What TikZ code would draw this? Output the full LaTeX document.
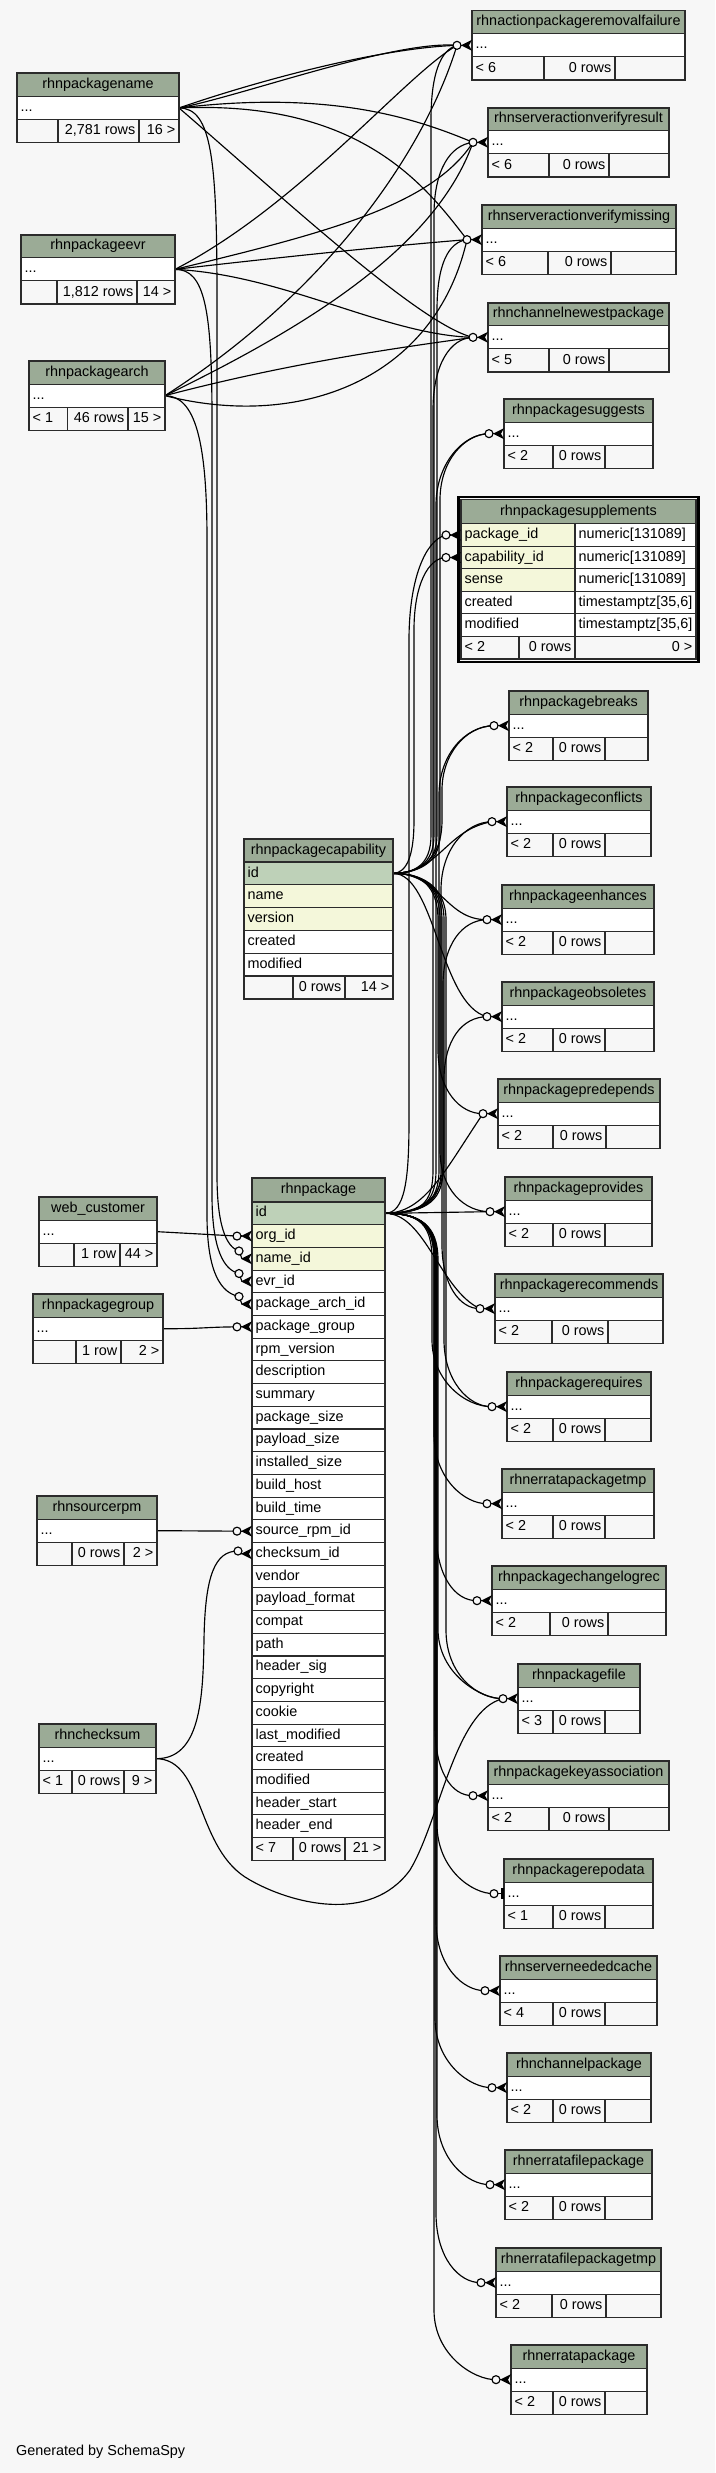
\documentclass[tikz,border=0pt]{standalone}
\usepackage{fontspec}
\setmainfont{Liberation Sans}
\usetikzlibrary{calc}
\definecolor{bgc}{HTML}{F7F7F7}
\definecolor{hdrc}{HTML}{9BAB96}
\definecolor{pkc}{HTML}{BED1B8}
\definecolor{idxc}{HTML}{F4F7DA}
\definecolor{bordc}{HTML}{2B2B2B}
\newcommand\fs{\fontsize{14.4pt}{17pt}\selectfont}
\newcommand\smalltbl[9]{%
  \def\stId{#1}\def\stTitle{#2}\def\stXl{#3}\def\stXr{#4}\def\stYt{#5}%
  \def\stDa{#6}\def\stDb{#7}\def\stFa{#8}\def\stFb{#9}\smalltblend}
\newcommand\smalltblend[1]{%
  \pgfmathsetmacro\stYa{\stYt+23.1}%
  \pgfmathsetmacro\stYb{\stYt+46.2}%
  \pgfmathsetmacro\stYc{\stYt+69.3}%
  \pgfmathsetmacro\stXm{(\stXl+\stXr)/2}%
  \filldraw[cell,fill=hdrc] (\stXl,\stYt) rectangle (\stXr,\stYa);
  \filldraw[cell,fill=white] (\stXl,\stYa) rectangle (\stXr,\stYb);
  \filldraw[cell,fill=bgc] (\stXl,\stYb) rectangle (\stDa,\stYc);
  \filldraw[cell,fill=bgc] (\stDa,\stYb) rectangle (\stDb,\stYc);
  \filldraw[cell,fill=bgc] (\stDb,\stYb) rectangle (\stXr,\stYc);
  \draw[outer] (\stXl,\stYt) rectangle (\stXr,\stYc);
  \node[txt] (\stId) at (\stXm,\stYt+11.55) {\stTitle};
  \node[txt,anchor=west] (\stId-r) at (\stXl,\stYt+34.65) {...};
  \node[txt,anchor=west] (\stId-fa) at (\stXl,\stYt+57.75) {\stFa};
  \node[txt,anchor=east] (\stId-fb) at (\stDb,\stYt+57.75) {\stFb};
  \node[txt,anchor=east] (\stId-fc) at (\stXr,\stYt+57.75) {#1};
}
\newcommand\crowm[2]{%
  \draw[rel] (#2) -- ($(#1)+(-10,0)$);
  \fill[black] ($(#1)+(-11,0)$) -- ($(#1)+(0,-5.5)$) -- ($(#1)+(-3,0)$) -- ($(#1)+(0,5.5)$) -- cycle;
  \draw[rel,fill=bgc] (#2) circle[radius=4pt];}
\newcommand\teem[2]{%
  \draw[rel] (#2) -- (#1);
  \fill[black] ($(#1)+(-3.5,-5.5)$) rectangle ($(#1)+(-0.5,5.5)$);
  \draw[rel,fill=bgc] (#2) circle[radius=4pt];}
\begin{document}
\begin{tikzpicture}[x=1pt,y=-1pt,
  cell/.style={draw=bordc,line width=1.1pt},
  outer/.style={draw=bordc,line width=1.6pt},
  txt/.style={font=\fs,inner xsep=3.5pt,inner ysep=0pt,text height=10.2pt,text depth=3pt},
  rel/.style={draw=black,line width=1.15pt}]
\path[use as bounding box,fill=bgc] (0,0) rectangle (715,2473);

% ---------- coordinates ----------
\coordinate (pname-out) at (179,107.95);
\coordinate (pevr-out) at (175,269.35);
\coordinate (parch-out) at (165,395.65);
\coordinate (wc-out) at (157,1231.65);
\coordinate (pgrp-out) at (163,1328.65);
\coordinate (srpm-out) at (157,1530.65);
\coordinate (csum-out) at (156,1758.65);
\coordinate (pcap-out) at (393,873.4);
\coordinate (pkg-out) at (385,1213.35);

\coordinate (raf-in) at (472,45.35);  \coordinate (raf-c) at (457,45.35);
\coordinate (svr-in) at (488,142.35); \coordinate (svr-c) at (473,142.35);
\coordinate (svm-in) at (482,239.65); \coordinate (svm-c) at (467,239.65);
\coordinate (cnp-in) at (488,337.35); \coordinate (cnp-c) at (473,337.35);
\coordinate (sugg-in) at (504,433.65); \coordinate (sugg-c) at (489,433.65);
\coordinate (supp-pkg-in) at (461,535); \coordinate (supp-pkg-c) at (446,535);
\coordinate (supp-cap-in) at (461,557.5); \coordinate (supp-cap-c) at (446,557.5);
\coordinate (brk-in) at (509,725.65); \coordinate (brk-c) at (494,725.65);
\coordinate (conf-in) at (507,821.65); \coordinate (conf-c) at (492,821.65);
\coordinate (enh-in) at (502,919.65); \coordinate (enh-c) at (487,919.65);
\coordinate (obs-in) at (502,1016.65); \coordinate (obs-c) at (487,1016.65);
\coordinate (pred-in) at (498,1113.65); \coordinate (pred-c) at (483,1113.65);
\coordinate (prov-in) at (505,1211.65); \coordinate (prov-c) at (490,1211.65);
\coordinate (rec-in) at (495,1308.65); \coordinate (rec-c) at (480,1308.65);
\coordinate (req-in) at (507,1406.65); \coordinate (req-c) at (492,1406.65);
\coordinate (ept-in) at (502,1503.65); \coordinate (ept-c) at (487,1503.65);
\coordinate (clog-in) at (492,1600.65); \coordinate (clog-c) at (477,1600.65);
\coordinate (pfile-in) at (518,1698.65); \coordinate (pfile-c) at (503,1698.65);
\coordinate (pka-in) at (488,1795.65); \coordinate (pka-c) at (473,1795.65);
\coordinate (repo-in) at (504,1893.65); \coordinate (repo-c) at (494,1893.65);
\coordinate (snc-in) at (500,1990.65); \coordinate (snc-c) at (485,1990.65);
\coordinate (chp-in) at (507,2087.65); \coordinate (chp-c) at (492,2087.65);
\coordinate (efp-in) at (505,2184.65); \coordinate (efp-c) at (490,2184.65);
\coordinate (efpt-in) at (496,2282.65); \coordinate (efpt-c) at (481,2282.65);
\coordinate (ep-in) at (511,2379.65); \coordinate (ep-c) at (496,2379.65);

\coordinate (pkg-org-in) at (252,1236.05); \coordinate (pkg-org-c) at (237,1236.05);
\coordinate (pkg-name-in) at (252,1258.75); \coordinate (pkg-name-c) at (239,1251);
\coordinate (pkg-evr-in) at (252,1281.45); \coordinate (pkg-evr-c) at (239,1273.5);
\coordinate (pkg-arch-in) at (252,1304.15); \coordinate (pkg-arch-c) at (239,1296.5);
\coordinate (pkg-grp-in) at (252,1326.85); \coordinate (pkg-grp-c) at (237,1326.85);
\coordinate (pkg-src-in) at (252,1531.15); \coordinate (pkg-src-c) at (237,1531.15);
\coordinate (pkg-chk-in) at (252,1553.85); \coordinate (pkg-chk-c) at (238,1551);

% ---------- connectors ----------
% rhnpackagename
\draw[rel] (pname-out) .. controls (260,80) and (380,48) .. (raf-c);
\draw[rel] (pname-out) .. controls (245,95) and (395,40) .. (raf-c);
\draw[rel] (pname-out) .. controls (330,90) and (415,118) .. (svr-c);
\draw[rel] (pname-out) .. controls (360,100) and (425,185) .. (svm-c);
\draw[rel] (pname-out) .. controls (280,195) and (420,325) .. (cnp-c);
\draw[rel] (pname-out) .. controls (212,108) and (217,160) .. (217,300) -- (217,1175) .. controls (217,1225) and (226,1247) .. (pkg-name-c);
% rhnpackageevr
\draw[rel] (pevr-out) .. controls (300,205) and (405,75) .. (raf-c);
\draw[rel] (pevr-out) .. controls (330,232) and (432,205) .. (svr-c);
\draw[rel] (pevr-out) .. controls (300,255) and (400,245) .. (svm-c);
\draw[rel] (pevr-out) .. controls (285,275) and (385,335) .. (cnp-c);
\draw[rel] (pevr-out) .. controls (205,269) and (212,310) .. (212,420) -- (212,1195) .. controls (212,1250) and (224,1270) .. (pkg-evr-c);
% rhnpackagearch
\draw[rel] (parch-out) .. controls (330,290) and (425,150) .. (raf-c);
\draw[rel] (parch-out) .. controls (300,330) and (435,250) .. (svr-c);
\draw[rel] (parch-out) .. controls (300,430) and (435,380) .. (svm-c);
\draw[rel] (parch-out) .. controls (300,360) and (420,345) .. (cnp-c);
\draw[rel] (parch-out) .. controls (195,396) and (207,440) .. (207,540) -- (207,1215) .. controls (207,1275) and (222,1293) .. (pkg-arch-c);
% rhnpackagecapability
\draw[rel] (pcap-out) .. controls (415,873) and (431,865) .. (431,835) -- (431,120) .. controls (431,75) and (440,50) .. (raf-c);
\draw[rel] (pcap-out) .. controls (415,873) and (434,865) .. (434,835) -- (434,215) .. controls (434,170) and (450,145) .. (svr-c);
\draw[rel] (pcap-out) .. controls (415,873) and (437,865) .. (437,835) -- (437,310) .. controls (437,265) and (448,242) .. (svm-c);
\draw[rel] (pcap-out) .. controls (415,873) and (440,865) .. (440,835) -- (440,500) .. controls (440,460) and (465,434) .. (sugg-c);
\draw[rel] (pcap-out) .. controls (405,873) and (414,860) .. (414,820) -- (414,630) .. controls (414,585) and (428,558) .. (supp-cap-c);
\draw[rel] (pcap-out) .. controls (420,873) and (442,860) .. (442,820) -- (442,790) .. controls (442,755) and (465,726) .. (brk-c);
\draw[rel] (pcap-out) .. controls (440,873) and (445,830) .. (conf-c);
\draw[rel] (pcap-out) .. controls (440,873) and (445,920) .. (enh-c);
\draw[rel] (pcap-out) .. controls (435,873) and (440,1005) .. (obs-c);
\draw[rel] (pcap-out) .. controls (420,873) and (438,885) .. (438,920) -- (438,1050) .. controls (438,1090) and (460,1114) .. (pred-c);
\draw[rel] (pcap-out) .. controls (420,873) and (440,885) .. (440,920) -- (440,1150) .. controls (440,1190) and (465,1212) .. (prov-c);
\draw[rel] (pcap-out) .. controls (420,873) and (442,885) .. (442,920) -- (442,1245) .. controls (442,1285) and (460,1309) .. (rec-c);
\draw[rel] (pcap-out) .. controls (420,873) and (444,885) .. (444,920) -- (444,1340) .. controls (444,1380) and (468,1407) .. (req-c);
\draw[rel] (pcap-out) .. controls (420,873) and (446,885) .. (446,920) -- (446,1630) .. controls (446,1675) and (478,1699) .. (pfile-c);
% rhnpackage
\draw[rel] (pkg-out) .. controls (420,1213) and (433,1205) .. (433,1170) -- (433,410) .. controls (433,365) and (450,338) .. (cnp-c);
\draw[rel] (pkg-out) .. controls (420,1213) and (436,1205) .. (436,1170) -- (436,505) .. controls (436,465) and (462,434) .. (sugg-c);
\draw[rel] (pkg-out) .. controls (405,1213) and (409,1180) .. (409,1120) -- (409,640) .. controls (409,580) and (425,540) .. (supp-pkg-c);
\draw[rel] (pkg-out) .. controls (420,1213) and (439,1205) .. (439,1170) -- (439,795) .. controls (439,755) and (465,726) .. (brk-c);
\draw[rel] (pkg-out) .. controls (420,1213) and (441,1205) .. (441,1170) -- (441,890) .. controls (441,850) and (465,822) .. (conf-c);
\draw[rel] (pkg-out) .. controls (420,1213) and (443,1205) .. (443,1170) -- (443,985) .. controls (443,945) and (462,920) .. (enh-c);
\draw[rel] (pkg-out) .. controls (420,1213) and (444,1200) .. (444,1160) -- (444,1080) .. controls (444,1040) and (462,1017) .. (obs-c);
\draw[rel] (pkg-out) .. controls (425,1213) and (445,1170) .. (pred-c);
\draw[rel] (pkg-out) -- (prov-c);
\draw[rel] (pkg-out) .. controls (425,1213) and (440,1290) .. (rec-c);
\draw[rel] (pkg-out) .. controls (420,1213) and (432,1225) .. (432,1260) -- (432,1340) .. controls (432,1380) and (465,1407) .. (req-c);
\draw[rel] (pkg-out) .. controls (420,1213) and (434,1225) .. (434,1260) -- (434,1434) .. controls (434,1479) and (465,1504) .. (ept-c);
\draw[rel] (pkg-out) .. controls (420,1213) and (436,1225) .. (436,1260) -- (436,1531) .. controls (436,1576) and (455,1601) .. (clog-c);
\draw[rel] (pkg-out) .. controls (420,1213) and (438,1225) .. (438,1260) -- (438,1629) .. controls (438,1674) and (481,1699) .. (pfile-c);
\draw[rel] (pkg-out) .. controls (420,1213) and (435,1225) .. (435,1260) -- (435,1726) .. controls (435,1771) and (451,1796) .. (pka-c);
\draw[rel] (pkg-out) .. controls (420,1213) and (437,1225) .. (437,1260) -- (437,1824) .. controls (437,1869) and (472,1894) .. (repo-c);
\draw[rel] (pkg-out) .. controls (420,1213) and (436,1225) .. (436,1260) -- (436,1921) .. controls (436,1966) and (463,1991) .. (snc-c);
\draw[rel] (pkg-out) .. controls (420,1213) and (435,1225) .. (435,1260) -- (435,2018) .. controls (435,2063) and (470,2088) .. (chp-c);
\draw[rel] (pkg-out) .. controls (420,1213) and (437,1225) .. (437,1260) -- (437,2115) .. controls (437,2160) and (468,2185) .. (efp-c);
\draw[rel] (pkg-out) .. controls (420,1213) and (436,1225) .. (436,1260) -- (436,2213) .. controls (436,2258) and (459,2283) .. (efpt-c);
\draw[rel] (pkg-out) .. controls (420,1213) and (434,1225) .. (434,1260) -- (434,2310) .. controls (434,2355) and (474,2380) .. (ep-c);
% others
\draw[rel] (wc-out) -- (pkg-org-c);
\draw[rel] (pgrp-out) .. controls (200,1329) and (205,1327) .. (pkg-grp-c);
\draw[rel] (srpm-out) -- (pkg-src-c);
\draw[rel] (csum-out) .. controls (200,1759) and (203,1700) .. (204,1640) .. controls (205,1575) and (215,1551) .. (pkg-chk-c);
\draw[rel] (csum-out) .. controls (205,1759) and (195,1850) .. (250,1880) .. controls (290,1903) and (370,1925) .. (410,1870) .. controls (440,1820) and (455,1710) .. (pfile-c);

% ---------- small tables ----------
\smalltbl{raf}{rhnactionpackageremovalfailure}{472}{685}{10.7}{544}{615}{< 6}{0 rows}{}
\smalltbl{svr}{rhnserveractionverifyresult}{488}{669}{107.7}{549}{609}{< 6}{0 rows}{}
\smalltbl{svm}{rhnserveractionverifymissing}{482}{676}{205}{548}{611}{< 6}{0 rows}{}
\smalltbl{cnp}{rhnchannelnewestpackage}{488}{669}{302.7}{549}{609}{< 5}{0 rows}{}
\smalltbl{pname}{rhnpackagename}{17}{179}{73.3}{58}{139}{}{2,781 rows}{16 >}
\smalltbl{pevr}{rhnpackageevr}{21}{175}{234.7}{57}{137}{}{1,812 rows}{14 >}
\smalltbl{parch}{rhnpackagearch}{29}{165}{361}{67.5}{128}{< 1}{46 rows}{15 >}
\smalltbl{sugg}{rhnpackagesuggests}{504}{653}{399}{553}{605}{< 2}{0 rows}{}
\smalltbl{brk}{rhnpackagebreaks}{509}{648}{691}{553}{605}{< 2}{0 rows}{}
\smalltbl{conf}{rhnpackageconflicts}{507}{651}{787}{553}{605}{< 2}{0 rows}{}
\smalltbl{enh}{rhnpackageenhances}{502}{654}{885}{553}{605}{< 2}{0 rows}{}
\smalltbl{obs}{rhnpackageobsoletes}{502}{654}{982}{553}{605}{< 2}{0 rows}{}
\smalltbl{pred}{rhnpackagepredepends}{498}{660}{1079}{553}{606}{< 2}{0 rows}{}
\smalltbl{prov}{rhnpackageprovides}{505}{652}{1177}{553}{605}{< 2}{0 rows}{}
\smalltbl{wc}{web\_customer}{39}{157}{1197}{74}{120}{}{1 row}{44 >}
\smalltbl{pgrp}{rhnpackagegroup}{33}{163}{1294}{76}{121}{}{1 row}{2 >}
\smalltbl{rec}{rhnpackagerecommends}{495}{663}{1274}{552}{608}{< 2}{0 rows}{}
\smalltbl{req}{rhnpackagerequires}{507}{651}{1372}{553}{605}{< 2}{0 rows}{}
\smalltbl{ept}{rhnerratapackagetmp}{502}{654}{1469}{553}{605}{< 2}{0 rows}{}
\smalltbl{srpm}{rhnsourcerpm}{37}{157}{1496}{72}{124}{}{0 rows}{2 >}
\smalltbl{clog}{rhnpackagechangelogrec}{492}{666}{1566}{550}{608}{< 2}{0 rows}{}
\smalltbl{csum}{rhnchecksum}{39}{156}{1724}{72}{124}{< 1}{0 rows}{9 >}
\smalltbl{pfile}{rhnpackagefile}{518}{640}{1664}{553}{605}{< 3}{0 rows}{}
\smalltbl{pka}{rhnpackagekeyassociation}{488}{669}{1761}{549}{609}{< 2}{0 rows}{}
\smalltbl{repo}{rhnpackagerepodata}{504}{653}{1859}{553}{605}{< 1}{0 rows}{}
\smalltbl{snc}{rhnserverneededcache}{500}{657}{1956}{553}{605}{< 4}{0 rows}{}
\smalltbl{chp}{rhnchannelpackage}{507}{651}{2053}{553}{605}{< 2}{0 rows}{}
\smalltbl{efp}{rhnerratafilepackage}{505}{652}{2150}{553}{605}{< 2}{0 rows}{}
\smalltbl{efpt}{rhnerratafilepackagetmp}{496}{661}{2248}{552}{606}{< 2}{0 rows}{}
\smalltbl{ep}{rhnerratapackage}{511}{647}{2345}{553}{605}{< 2}{0 rows}{}

% ---------- rhnpackagecapability ----------
\filldraw[cell,fill=hdrc] (244,839) rectangle (393,862);
\node[txt] (pcap) at (318.5,850.5) {rhnpackagecapability};
\foreach \t/\c [count=\i from 0] in {id/pkc,name/idxc,version/idxc,created/white,modified/white}{
  \pgfmathsetmacro\ry{862+\i*22.8}
  \filldraw[cell,fill=\c] (244,\ry) rectangle (393,\ry+22.8);
  \node[txt,anchor=west] (pcap-\i) at (244,\ry+11.4) {\t};
}
\filldraw[cell,fill=bgc] (244,976) rectangle (293,998.8);
\filldraw[cell,fill=bgc] (293,976) rectangle (345,998.8);
\filldraw[cell,fill=bgc] (345,976) rectangle (393,998.8);
\node[txt,anchor=east] (pcap-fb) at (345,987.4) {0 rows};
\node[txt,anchor=east] (pcap-fc) at (393,987.4) {14 >};
\draw[outer] (244,839) rectangle (393,998.8);

% ---------- rhnpackage ----------
\filldraw[cell,fill=hdrc] (252,1178) rectangle (385,1202);
\node[txt] (pkg) at (318.5,1190) {rhnpackage};
\foreach \t/\c [count=\i from 0] in {id/pkc,org\_id/idxc,name\_id/idxc,evr\_id/white,package\_arch\_id/white,package\_group/white,rpm\_version/white,description/white,summary/white,package\_size/white,payload\_size/white,installed\_size/white,build\_host/white,build\_time/white,source\_rpm\_id/white,checksum\_id/white,vendor/white,payload\_format/white,compat/white,path/white,header\_sig/white,copyright/white,cookie/white,last\_modified/white,created/white,modified/white,header\_start/white,header\_end/white}{
  \pgfmathsetmacro\ry{1202+\i*22.7}
  \filldraw[cell,fill=\c] (252,\ry) rectangle (385,\ry+22.7);
  \node[txt,anchor=west] (pkg-\i) at (252,\ry+11.35) {\t};
}
\filldraw[cell,fill=bgc] (252,1837.6) rectangle (293,1860.3);
\filldraw[cell,fill=bgc] (293,1837.6) rectangle (345,1860.3);
\filldraw[cell,fill=bgc] (345,1837.6) rectangle (385,1860.3);
\node[txt,anchor=west] (pkg-fa) at (252,1848.95) {< 7};
\node[txt,anchor=east] (pkg-fb) at (345,1848.95) {0 rows};
\node[txt,anchor=east] (pkg-fc) at (385,1848.95) {21 >};
\draw[outer] (252,1178) rectangle (385,1860.3);

% ---------- rhnpackagesupplements ----------
\draw[line width=2.6pt,draw=black] (458.3,497) rectangle (698.7,661.8);
\filldraw[cell,fill=hdrc] (461,499.5) rectangle (696,523.5);
\node[txt] (supp) at (578.5,511.5) {rhnpackagesupplements};
\filldraw[cell,fill=idxc] (461,523.5) rectangle (575,546.1);
\filldraw[cell,fill=white] (575,523.5) rectangle (696,546.1);
\filldraw[cell,fill=idxc] (461,546.1) rectangle (575,568.7);
\filldraw[cell,fill=white] (575,546.1) rectangle (696,568.7);
\filldraw[cell,fill=idxc] (461,568.7) rectangle (575,591.3);
\filldraw[cell,fill=white] (575,568.7) rectangle (696,591.3);
\filldraw[cell,fill=white] (461,591.3) rectangle (575,613.9);
\filldraw[cell,fill=white] (575,591.3) rectangle (696,613.9);
\filldraw[cell,fill=white] (461,613.9) rectangle (575,636.5);
\filldraw[cell,fill=white] (575,613.9) rectangle (696,636.5);
\node[txt,anchor=west] (supp-n1) at (461,534.8) {package\_id};
\node[txt,anchor=west] (supp-t1) at (575,534.8) {numeric[131089]};
\node[txt,anchor=west] (supp-n2) at (461,557.4) {capability\_id};
\node[txt,anchor=west] (supp-t2) at (575,557.4) {numeric[131089]};
\node[txt,anchor=west] (supp-n3) at (461,580) {sense};
\node[txt,anchor=west] (supp-t3) at (575,580) {numeric[131089]};
\node[txt,anchor=west] (supp-n4) at (461,602.6) {created};
\node[txt,anchor=west] (supp-t4) at (575,602.6) {timestamptz[35,6]};
\node[txt,anchor=west] (supp-n5) at (461,625.2) {modified};
\node[txt,anchor=west] (supp-t5) at (575,625.2) {timestamptz[35,6]};
\filldraw[cell,fill=bgc] (461,636.5) rectangle (519,659.1);
\filldraw[cell,fill=bgc] (519,636.5) rectangle (575,659.1);
\filldraw[cell,fill=bgc] (575,636.5) rectangle (696,659.1);
\node[txt,anchor=west] (supp-fa) at (461,647.8) {< 2};
\node[txt,anchor=east] (supp-fb) at (575,647.8) {0 rows};
\node[txt,anchor=east] (supp-fc) at (696,647.8) {0 >};
\draw[outer] (461,499.5) rectangle (696,659.1);

% ---------- connector ends ----------
\crowm{raf-in}{raf-c}
\crowm{svr-in}{svr-c}
\crowm{svm-in}{svm-c}
\crowm{cnp-in}{cnp-c}
\crowm{sugg-in}{sugg-c}
\crowm{supp-pkg-in}{supp-pkg-c}
\crowm{supp-cap-in}{supp-cap-c}
\crowm{brk-in}{brk-c}
\crowm{conf-in}{conf-c}
\crowm{enh-in}{enh-c}
\crowm{obs-in}{obs-c}
\crowm{pred-in}{pred-c}
\crowm{prov-in}{prov-c}
\crowm{rec-in}{rec-c}
\crowm{req-in}{req-c}
\crowm{ept-in}{ept-c}
\crowm{clog-in}{clog-c}
\crowm{pfile-in}{pfile-c}
\crowm{pka-in}{pka-c}
\teem{repo-in}{repo-c}
\crowm{snc-in}{snc-c}
\crowm{chp-in}{chp-c}
\crowm{efp-in}{efp-c}
\crowm{efpt-in}{efpt-c}
\crowm{ep-in}{ep-c}
\crowm{pkg-org-in}{pkg-org-c}
\crowm{pkg-name-in}{pkg-name-c}
\crowm{pkg-evr-in}{pkg-evr-c}
\crowm{pkg-arch-in}{pkg-arch-c}
\crowm{pkg-grp-in}{pkg-grp-c}
\crowm{pkg-src-in}{pkg-src-c}
\crowm{pkg-chk-in}{pkg-chk-c}

\node[txt,anchor=west] (gen) at (12.5,2452) {Generated by SchemaSpy};
\end{tikzpicture}
\end{document}
